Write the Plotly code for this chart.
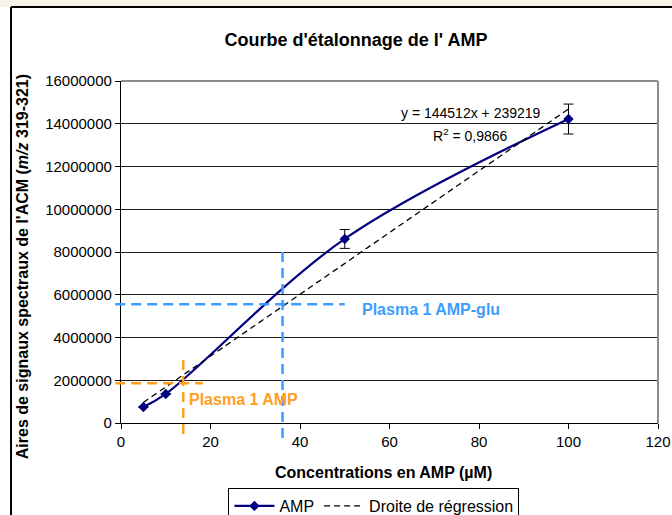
import plotly.graph_objects as go

# Calibration data: AMP concentration (µM) vs. ACM spectral signal area
conc = [5, 10, 50, 100]
area = [750000, 1360000, 8610000, 14220000]
err = [0, 0, 440000, 700000]

# Linear regression stated on the chart
slope = 144512
intercept = 239219
r2_text = "0,9866"
reg_x = [5, 100]
reg_y = [slope * x + intercept for x in reg_x]

# Plasma read-outs (signal -> concentration)
plasma_amp = {"conc": 13.9, "area": 1860000, "label": "Plasma 1 AMP"}
plasma_glu = {"conc": 36.1, "area": 5550000, "label": "Plasma 1 AMP-glu"}

x_ticks = [0, 20, 40, 60, 80, 100, 120]
y_ticks = [0, 2000000, 4000000, 6000000, 8000000, 10000000, 12000000, 14000000, 16000000]

X_MAX = 120
Y_MAX = 16000000
ORANGE = "#FF9E1F"
BLUE = "#3D9DFF"
NAVY = "#000080"
FONT = "Liberation Sans, Arial, sans-serif"


def px(x):
    return x / X_MAX


def py(y):
    return y / Y_MAX


fig = go.Figure()

fig.add_trace(go.Scatter(
    x=conc, y=area, name="AMP", mode="lines+markers",
    line=dict(color=NAVY, width=2.2, shape="spline", smoothing=1.0),
    marker=dict(symbol="diamond", size=8, color=NAVY),
    error_y=dict(type="data", array=err, visible=True, color="black",
                 thickness=1, width=5),
))

fig.add_trace(go.Scatter(
    x=reg_x, y=reg_y, name="Droite de régression", mode="lines",
    line=dict(color="black", width=1.3, dash="6px,4px"),
))

shapes = []
# page strip and frame
shapes.append(dict(type="rect", xref="paper", yref="paper",
                   x0=-0.26, x1=1.1, y0=1.2164, y1=1.26,
                   fillcolor="#F6F4E9", line=dict(width=0), layer="below"))
shapes.append(dict(type="line", xref="paper", yref="paper",
                   x0=-0.2048, x1=1.1, y0=1.2164, y1=1.2164,
                   line=dict(color="black", width=2)))
shapes.append(dict(type="line", xref="paper", yref="paper",
                   x0=-0.2048, x1=-0.2048, y0=1.2164, y1=-0.3,
                   line=dict(color="black", width=2)))
# plot frame (top / right in grey)
shapes.append(dict(type="line", xref="paper", yref="paper",
                   x0=0, x1=1, y0=1, y1=1, line=dict(color="#8C8C8C", width=2)))
shapes.append(dict(type="line", xref="paper", yref="paper",
                   x0=1, x1=1, y0=0, y1=1, line=dict(color="#8C8C8C", width=2)))

# Plasma read-out guides, extending slightly past the axes
for p, color, x_end, y_top, y_bot in [
    (plasma_amp, ORANGE, 18.3, 2950000, -700000),
    (plasma_glu, BLUE, 50.0, 8000000, -930000),
]:
    shapes.append(dict(type="line", xref="paper", yref="paper",
                       x0=px(-1.3), x1=px(x_end), y0=py(p["area"]), y1=py(p["area"]),
                       line=dict(color=color, width=2.5, dash="10px,6px")))
    shapes.append(dict(type="line", xref="paper", yref="paper",
                       x0=px(p["conc"]), x1=px(p["conc"]), y0=py(y_top), y1=py(y_bot),
                       line=dict(color=color, width=2.5, dash="10px,6px")))

annotations = [
    dict(x=14.7, y=1080000, xref="x", yref="y", xanchor="left", yanchor="middle",
         text="<b>" + plasma_amp["label"] + "</b>", showarrow=False,
         font=dict(family=FONT, size=16, color=ORANGE)),
    dict(x=53.4, y=5330000, xref="x", yref="y", xanchor="left", yanchor="middle",
         text="<b>" + plasma_glu["label"] + "</b>", showarrow=False,
         font=dict(family=FONT, size=16, color=BLUE)),
    dict(x=78.2, y=14500000, xref="x", yref="y", xanchor="center", yanchor="middle",
         text=f"y = {slope}x + {intercept}", showarrow=False,
         font=dict(family=FONT, size=14, color="black")),
    dict(x=78.2, y=13470000, xref="x", yref="y", xanchor="center", yanchor="middle",
         text=f"R<sup>2</sup> = {r2_text}", showarrow=False,
         font=dict(family=FONT, size=14, color="black")),
    dict(x=0.488, y=-0.146, xref="paper", yref="paper", xanchor="center", yanchor="middle",
         text="<b>Concentrations en AMP (µM)</b>", showarrow=False,
         font=dict(family=FONT, size=16, color="black")),
    dict(x=-0.184, y=0.456, xref="paper", yref="paper", xanchor="center", yanchor="middle",
         textangle=-90,
         text="<b>Aires de signaux spectraux de l'ACM (<i>m/z</i> 319-321)</b>",
         showarrow=False, font=dict(family=FONT, size=16, color="black")),
]

fig.update_layout(
    width=672, height=515,
    margin=dict(l=121, r=14, t=81, b=92, autoexpand=False),
    paper_bgcolor="white", plot_bgcolor="white",
    title=dict(text="<b>Courbe d'étalonnage de l' AMP</b>", x=356 / 672, xanchor="center",
               y=1 - 40 / 515, yanchor="middle",
               font=dict(family=FONT, size=18, color="black")),
    font=dict(family=FONT, size=15, color="black"),
    xaxis=dict(range=[0, X_MAX], tickvals=x_ticks, showgrid=False, zeroline=False,
               showline=True, linecolor="black", linewidth=1.2,
               ticks="outside", ticklen=5, tickcolor="black",
               tickfont=dict(family=FONT, size=15)),
    yaxis=dict(range=[0, Y_MAX], tickvals=y_ticks, tickformat="d",
               showgrid=True, gridcolor="#1A1A1A", gridwidth=1, zeroline=False,
               showline=True, linecolor="black", linewidth=1.2,
               ticks="outside", ticklen=5, tickcolor="black",
               tickfont=dict(family=FONT, size=15)),
    shapes=shapes,
    annotations=annotations,
    showlegend=True,
    legend=dict(orientation="h", x=0.471, xanchor="center", y=-0.19, yanchor="top",
                bordercolor="black", borderwidth=1, bgcolor="white",
                font=dict(family=FONT, size=16), itemwidth=40),
)

fig.write_html("out.html")
